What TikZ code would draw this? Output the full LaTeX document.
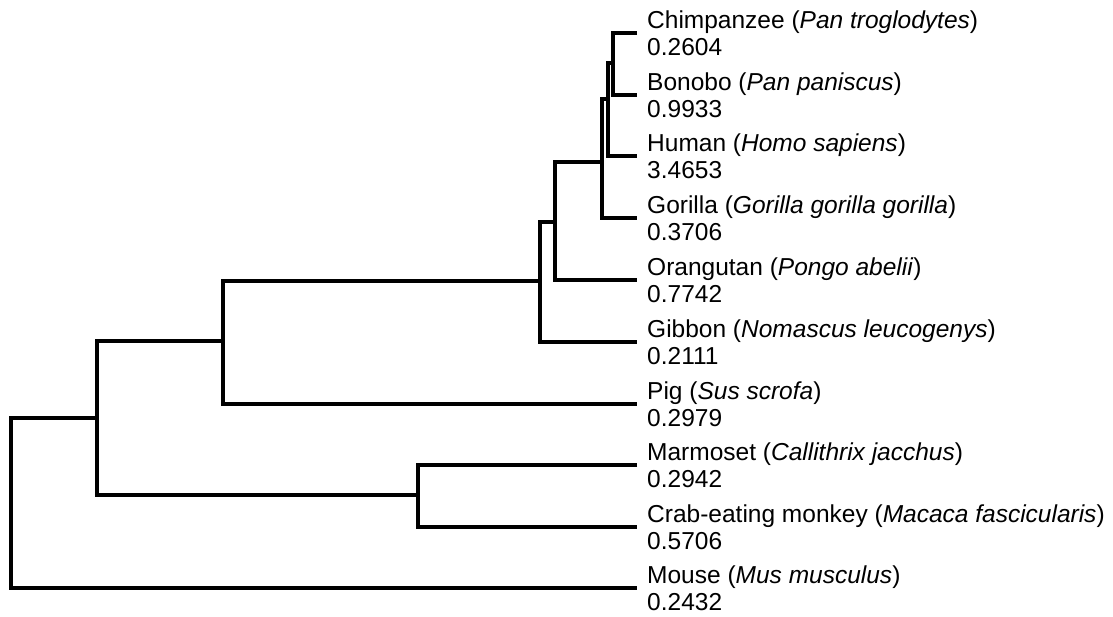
\documentclass[tikz,border=0pt]{standalone}
\usepackage{fontspec}
\setmainfont{Liberation Sans}
\usepackage{tikz}
\usetikzlibrary{positioning,calc}
\tikzset{
  leaf/.style={
    anchor=west,
    align=left,
    inner xsep=10pt,
    inner ysep=0pt,
    font=\fontsize{24.5}{27}\selectfont
  },
  branch/.style={line width=3.2pt,black,line join=miter}
}
\begin{document}
\begin{tikzpicture}[x=1pt,y=-1pt]
  \useasboundingbox (0,0) rectangle (1113,616);
  % leaves
  \node[leaf] (chimp) at (637,33) {Chimpanzee (\textit{Pan troglodytes})\\0.2604};
  \node[leaf] (bonobo) at (637,95) {Bonobo (\textit{Pan paniscus})\\0.9933};
  \node[leaf] (human) at (637,156) {Human (\textit{Homo sapiens})\\3.4653};
  \node[leaf] (gorilla) at (637,218) {Gorilla (\textit{Gorilla gorilla gorilla})\\0.3706};
  \node[leaf] (orang) at (637,280) {Orangutan (\textit{Pongo abelii})\\0.7742};
  \node[leaf] (gibbon) at (637,342) {Gibbon (\textit{Nomascus leucogenys})\\0.2111};
  \node[leaf] (pig) at (637,404) {Pig (\textit{Sus scrofa})\\0.2979};
  \node[leaf] (marmoset) at (637,465) {Marmoset (\textit{Callithrix jacchus})\\0.2942};
  \node[leaf] (crab) at (637,527) {Crab-eating monkey (\textit{Macaca fascicularis})\\0.5706};
  \node[leaf] (mouse) at (637,588) {Mouse (\textit{Mus musculus})\\0.2432};
  % inner nodes
  \coordinate (pan) at (613,63);
  \coordinate (homini) at (608,99);
  \coordinate (homininae) at (602,162);
  \coordinate (hominidae) at (555,222);
  \coordinate (hominoidea) at (540,281);
  \coordinate (withpig) at (223,341);
  \coordinate (monkeys) at (418,495);
  \coordinate (inner) at (97,418);
  \coordinate (root) at (11,502);
  % branches
  \draw[branch] (chimp.west) -| (pan) |- (bonobo.west);
  \draw[branch] (pan) -| (homini) |- (human.west);
  \draw[branch] (homini) -| (homininae) |- (gorilla.west);
  \draw[branch] (homininae) -| (hominidae) |- (orang.west);
  \draw[branch] (hominidae) -| (hominoidea) |- (gibbon.west);
  \draw[branch] (hominoidea) -| (withpig) |- (pig.west);
  \draw[branch] (marmoset.west) -| (monkeys) |- (crab.west);
  \draw[branch] (withpig) -| (inner) |- (monkeys);
  \draw[branch] (inner) -| (root) |- (mouse.west);
\end{tikzpicture}
\end{document}
